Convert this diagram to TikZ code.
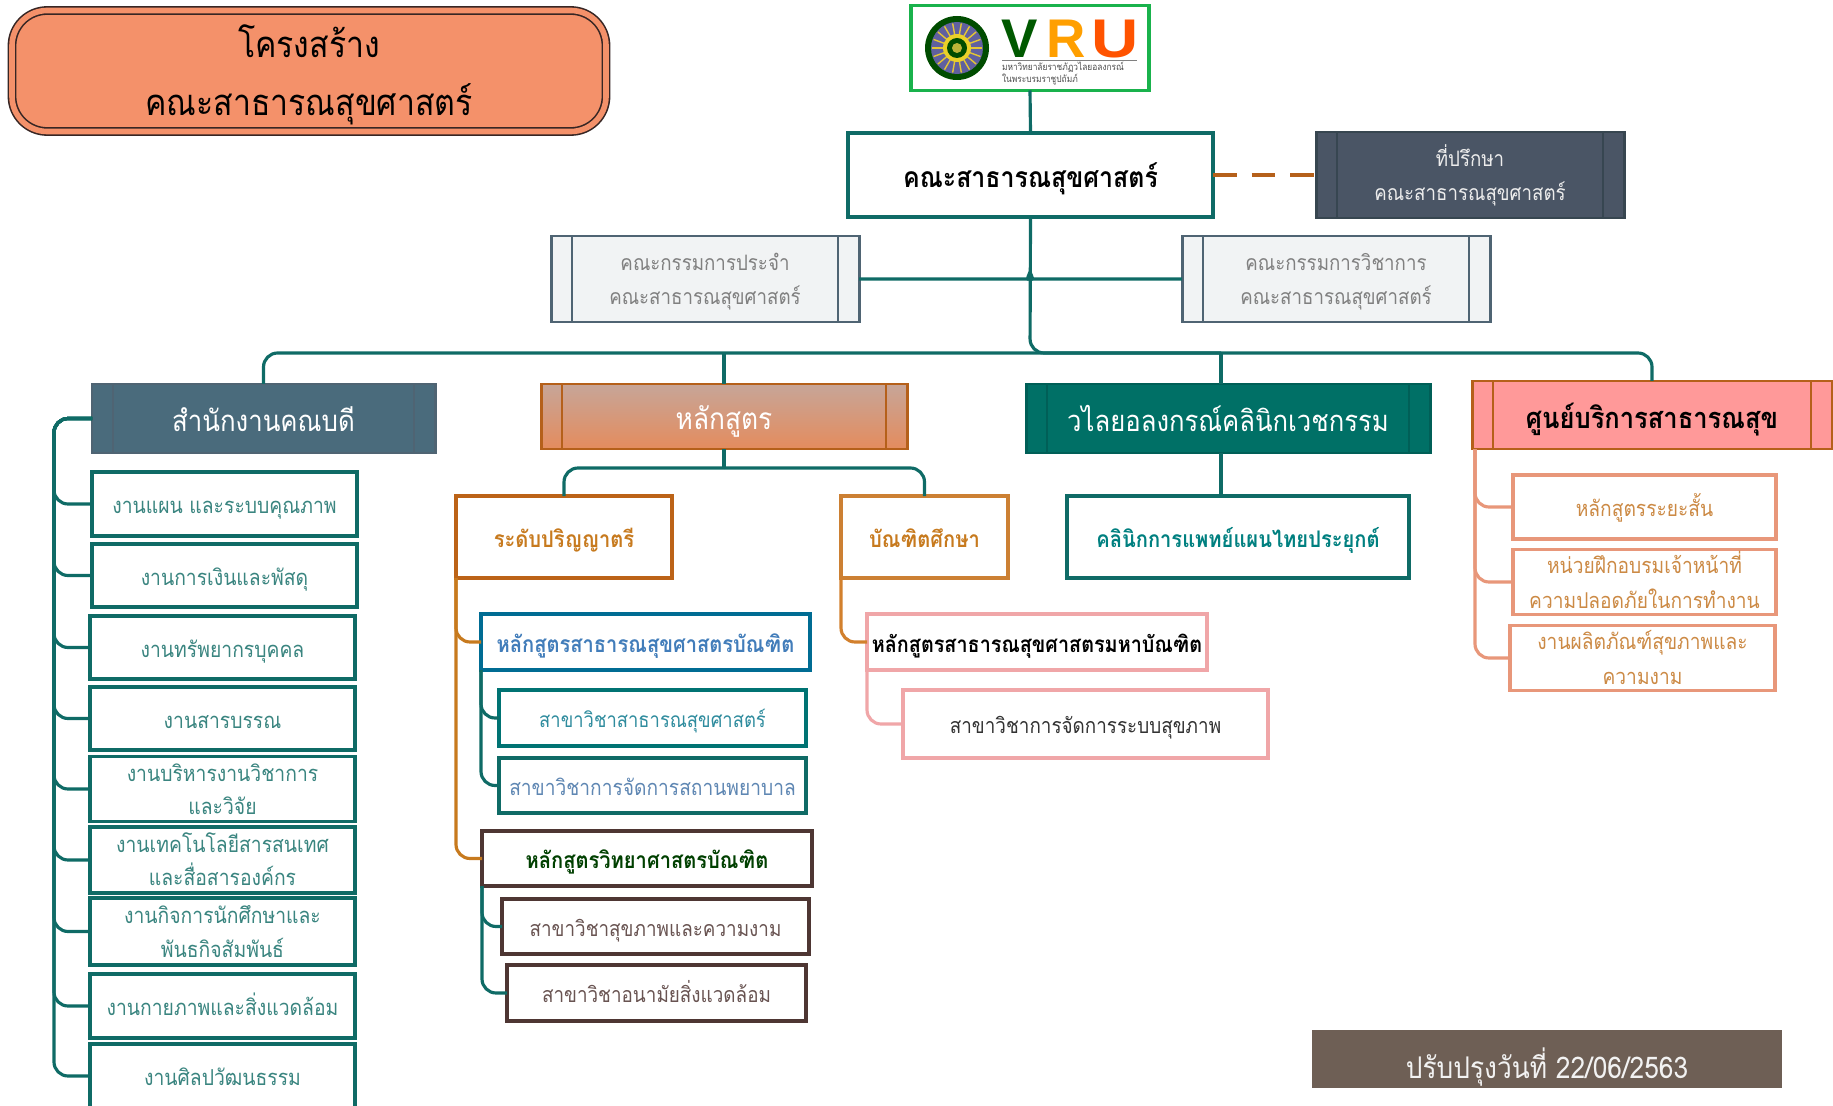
\documentclass[tikz,border=0pt]{standalone}
\usepackage{fontspec}
\setmainfont[Script=Thai,FakeStretch=.88]{Loma}
\newfontfamily\logofont{Liberation Sans}
\usetikzlibrary{positioning}
\definecolor{linkteal}{HTML}{0F6B66}
\definecolor{headorange}{HTML}{B5601A}
\definecolor{degreeorange}{HTML}{C77A1E}
\definecolor{salmon}{HTML}{E8977A}
\definecolor{titlefill}{HTML}{F4916A}
\definecolor{pinkline}{HTML}{F0A6A8}
\definecolor{brownline}{HTML}{4E3633}
\definecolor{slateline}{HTML}{4F6473}
\definecolor{advisorfill}{HTML}{4A5565}
\definecolor{officefill}{HTML}{4A6B7C}
\definecolor{clinicfill}{HTML}{007066}
\definecolor{updatefill}{HTML}{6E5F55}
\definecolor{listtext}{HTML}{3A8580}
\definecolor{righttext}{HTML}{CC8A45}
\definecolor{majortext}{HTML}{2F8C9E}
\newcommand\rowlift{\rule{0pt}{1.13em}}

\begin{document}
\begin{tikzpicture}[x=.2mm, y=-.2mm,
  wh/.style 2 args = {minimum width=#1*.2mm, minimum height=#2*.2mm},
  every node/.style = {inner sep=0pt, outer sep=0pt, align=center,
    execute at begin node={\rule[-.3em]{0pt}{1.5em}}},
  procbox/.style = {draw=#1, line width=1.7pt, path picture={
      \draw[#1, line width=1pt]
      ([xshift=4.2mm]path picture bounding box.north west) -- ([xshift=4.2mm]path picture bounding box.south west)
      ([xshift=-4.2mm]path picture bounding box.north east) -- ([xshift=-4.2mm]path picture bounding box.south east);}},
  plainbox/.style = {draw=#1, line width=2pt, fill=white},
  listbox/.style = {plainbox=linkteal, text=listtext, font=\fontsize{12.5}{19}\selectfont},
  rightbox/.style = {plainbox=salmon, text=righttext, font=\fontsize{12.4}{19.5}\selectfont},
  subbox/.style = {plainbox=#1, font=\fontsize{12.2}{18.5}\selectfont},
  boldbox/.style = {font=\bfseries\fontsize{13}{18}\selectfont},
  logoletter/.style = {text=#1, execute at begin node={}, font=\logofont\bfseries\fontsize{31}{31}\selectfont},
  link/.style = {draw=linkteal, line width=1.8pt, rounded corners=8pt},
  ]
  \clip (0,0) rectangle (1833,1106);
  % title and logo
  \node (title) [wh={594}{121}, draw=brownline!70!black, double=titlefill, double distance=3.2pt, line width=.9pt,
    rounded corners=20pt, fill=titlefill, font=\fontsize{20.7}{33}\selectfont] at (309,71)
    {\rowlift โครงสร้าง\\คณะสาธารณสุขศาสตร์};
  \node (logo) [wh={238}{85}, plainbox=green!50!teal!80!gray] at (1030,48) {};
  \foreach \r/\c in {32/green!30!black, 26/blue!25!gray}
    \fill[\c] (957,48) circle[radius=\r];
  \foreach \a in {0,20,...,340}
    \draw[yellow!55!brown, line width=.8pt] (957,48) -- ++(\a:25);
  \foreach \r/\c in {14/yellow!65!brown, 10/green!30!black, 5/yellow!70!black}
    \fill[\c] (957,48) circle[radius=\r];
  \node (logoV) [logoletter=green!35!black] at (1020,33) {V};
  \node (logoR) [logoletter=orange!75!yellow] at (1066,33) {R};
  \node (logoU) [logoletter=orange!65!red] at (1115,33) {\scalebox{1.2}[1]{U}};
  \draw[gray] (1002,60) -- (1137,60);
  \node (logotext) [anchor=west, align=left, text=gray!60!black, execute at begin node={}, font=\fontsize{5.4}{5.7}\selectfont] at (1002,74)
    {มหาวิทยาลัยราชภัฏวไลยอลงกรณ์\\ในพระบรมราชูปถัมภ์};
  % top of the chart
  \node (main) [wh={365}{84}, plainbox=linkteal, font=\bfseries\fontsize{16.1}{18}\selectfont] at (1030.5,175) {คณะสาธารณสุขศาสตร์};
  \node (advisor) [wh={308}{86}, procbox=slateline!70!black, fill=advisorfill, text=white!85!gray, font=\fontsize{12.1}{19.5}\selectfont] at (1470,175)
    {\rowlift ที่ปรึกษา\\คณะสาธารณสุขศาสตร์};
  \node (board) [wh={308}{86}, procbox=slateline, fill=slateline!8, text=gray, font=\fontsize{12.1}{19.5}\selectfont] at (705,279)
    {\rowlift คณะกรรมการประจำ\\คณะสาธารณสุขศาสตร์};
  \node (academic) [wh={308}{86}, procbox=slateline, fill=slateline!8, text=gray, font=\fontsize{12.1}{19.5}\selectfont] at (1336,279)
    {\rowlift คณะกรรมการวิชาการ\\คณะสาธารณสุขศาสตร์};
  % second level
  \node (office) [wh={343}{69}, procbox=slateline, fill=officefill, text=white, font=\fontsize{16.7}{18}\selectfont] at (263.5,418.5) {สำนักงานคณบดี};
  \node (course) [wh={366}{65}, procbox=headorange, top color=titlefill!45!gray!75!white, bottom color=titlefill!70!brown, text=white, font=\fontsize{17}{18}\selectfont] at (724,416.5) {หลักสูตร};
  \node (clinic) [wh={404}{69}, procbox=clinicfill!85!black, fill=clinicfill, text=white, font=\fontsize{16.6}{18}\selectfont] at (1228,418.5) {วไลยอลงกรณ์คลินิกเวชกรรม};
  \node (center) [wh={360}{68}, procbox=headorange, fill=red!40, font=\bfseries\fontsize{16.5}{18}\selectfont] at (1652,415) {ศูนย์บริการสาธารณสุข};
  % left list
  \foreach \n/\cx/\cy/\ww/\hh/\txt in {
    a/224.5/504/265/64/{งานแผน และระบบคุณภาพ},
    b/224.5/575.5/265/63/{งานการเงินและพัสดุ},
    c/222.5/647.5/265/63/{งานทรัพยากรบุคคล},
    d/222.5/718.5/265/63/{งานสารบรรณ},
    e/222.5/789/265/64/{\rowlift งานบริหารงานวิชาการ\\และวิจัย},
    f/222.5/860/265/66/{\rowlift งานเทคโนโลยีสารสนเทศ\\และสื่อสารองค์กร},
    g/222.5/931.5/265/67/{\rowlift งานกิจการนักศึกษาและ\\พันธกิจสัมพันธ์},
    h/222.5/1006/265/64/{งานกายภาพและสิ่งแวดล้อม},
    i/222.5/1076/265/64/{งานศิลปวัฒนธรรม}}
    \node (list\n) [wh={\ww}{\hh}, listbox] at (\cx,\cy) {\txt};
  % course boxes
  \node (degree) [wh={216}{82}, plainbox=headorange!90!orange, text=degreeorange, boldbox] at (564,537) {ระดับปริญญาตรี};
  \node (grad) [wh={167}{82}, plainbox=brown!80!orange, text=degreeorange, boldbox] at (924.5,537) {บัณฑิตศึกษา};
  \node (clinicsub) [wh={342}{82}, plainbox=linkteal, text=teal, boldbox] at (1238,537) {คลินิกการแพทย์แผนไทยประยุกต์};
  \node (bph) [wh={329}{56}, subbox=teal!85!blue, text=cyan!55!blue!75!gray, boldbox] at (645.5,642) {หลักสูตรสาธารณสุขศาสตรบัณฑิต};
  \node (bphone) [wh={307}{56}, subbox=teal!90!black, text=majortext, font=\fontsize{11.9}{18}\selectfont] at (652.5,718) {สาขาวิชาสาธารณสุขศาสตร์};
  \node (bphtwo) [wh={307}{55}, subbox=linkteal, text=cyan!60!blue!55!gray, font=\fontsize{12.4}{18}\selectfont] at (652.5,785.5) {สาขาวิชาการจัดการสถานพยาบาล};
  \node (bsc) [wh={330}{55}, subbox=brownline, text=green!25!black, boldbox] at (647,858.5) {หลักสูตรวิทยาศาสตรบัณฑิต};
  \node (bscone) [wh={307}{55}, subbox=brownline, text=brownline!85!white] at (655.5,926.5) {สาขาวิชาสุขภาพและความงาม};
  \node (bsctwo) [wh={299}{56}, subbox=brownline, text=brownline!85!white] at (656.5,993) {สาขาวิชาอนามัยสิ่งแวดล้อม};
  \node (mph) [wh={340}{56}, subbox=pinkline, font=\bfseries\fontsize{12.8}{18}\selectfont] at (1037,642) {หลักสูตรสาธารณสุขศาสตรมหาบัณฑิต};
  \node (mphone) [wh={365}{68}, subbox=pinkline, text=black!80] at (1085.5,724) {สาขาวิชาการจัดการระบบสุขภาพ};
  % right list
  \node (righta) [wh={263}{64}, rightbox] at (1644.5,507) {หลักสูตรระยะสั้น};
  \node (rightb) [wh={263}{64}, rightbox] at (1644.5,582) {\rowlift หน่วยฝึกอบรมเจ้าหน้าที่\\ความปลอดภัยในการทำงาน};
  \node (rightc) [wh={265}{64}, rightbox] at (1642.5,658) {\rowlift งานผลิตภัณฑ์สุขภาพและ\\ความงาม};
  \node (update) [wh={470}{58}, fill=updatefill, text=white!90!gray, execute at begin node={\rule[-.3em]{0pt}{1.9em}},
    font=\fontsize{17}{18}\selectfont] at (1547,1059) {ปรับปรุงวันที่ 22/06/2563};
  % connectors
  \coordinate (bus) at (1030,353);
  \coordinate (clinicdrop) at (1221,353);
  \coordinate (fork) at (724,468);
  \coordinate (listtrunk) at (54,418.5);
  \coordinate (righttop) at (1475,449);
  \coordinate (humpl) at (1019,279);
  \coordinate (humpr) at (1041,279);
  \coordinate (hump) at (1030,272);
  \draw[link] (logo.south) -- (main.north);
  \draw[link] (main.south) -- (bus) -| (center.north);
  \draw[link] (office.north) |- (clinicdrop);
  \draw[link] (course.north |- bus) -- (course.north);
  \draw[link] (clinicdrop) -- (clinic.north -| clinicdrop);
  \draw[link] (clinic.south -| clinicdrop) -- (clinicsub.north -| clinicdrop);
  \draw[link] (board.east) -- (humpl) .. controls (1025,279) and (1028,278) .. (hump);
  \draw[link] (academic.west) -- (humpr) .. controls (1035,279) and (1032,278) .. (hump);
  \draw[draw=headorange, line width=2pt, dash pattern=on 13.5pt off 8.5pt] (main.east) -- (advisor.west);
  \draw[link] (course.south) -- (fork);
  \draw[link] (degree.north) |- (fork);
  \draw[link] (grad.north) |- (fork);
  \foreach \n in {a,...,i}
    \draw[link] (office.west) -- (listtrunk) |- (list\n.west);
  \foreach \n in {bph,bsc}
    \draw[link, draw=degreeorange] (degree.south west) |- (\n.west);
  \foreach \n in {bphone,bphtwo}
    \draw[link] (bph.south west) |- (\n.west);
  \foreach \n in {bscone,bsctwo}
    \draw[link] (bsc.south west) |- (\n.west);
  \draw[link, draw=brown!70!orange] (grad.south west) |- (mph.west);
  \draw[link, draw=pinkline] (mph.south west) |- (mphone.west);
  \foreach \n in {righta,rightb,rightc}
    \draw[link, draw=salmon] (righttop) |- (\n.west);
\end{tikzpicture}
\end{document}
